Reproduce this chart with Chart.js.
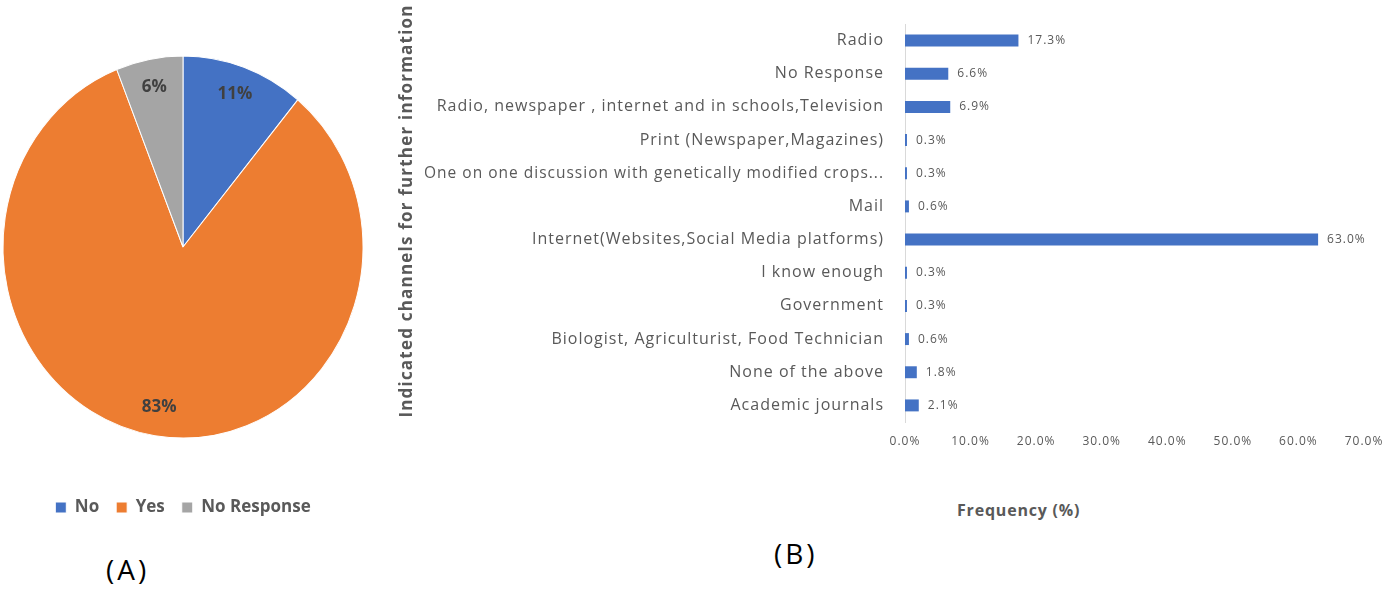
<!DOCTYPE html>
<html>
<head>
<meta charset="utf-8">
<script src="https://cdn.jsdelivr.net/npm/chart.js@4.4.1/dist/chart.umd.min.js"></script>
<style>
  html, body { margin: 0; padding: 0; background: #ffffff; }
  body { width: 1400px; height: 594px; position: relative; overflow: hidden; font-family: "Open Sans", sans-serif; }
  .box { position: absolute; }
  .panel { position: absolute; color: #000; font-size: 28px; letter-spacing: 3px; line-height: 1; font-family: "Open Sans", sans-serif; }
  .xtitle { position: absolute; color: #595959; font-weight: bold; font-size: 16px; letter-spacing: 0.8px; line-height: 1; font-family: "Open Sans", sans-serif; }
</style>
</head>
<body>
<div class="box" style="left:-5px; top:0; width:376px; height:526px;"><canvas id="pie"></canvas></div>
<div class="box" style="left:395px; top:0; width:1005px; height:480px;"><canvas id="bar"></canvas></div>
<div class="xtitle" style="left:957px; top:502px;">Frequency (%)</div>
<div class="panel" style="left:106px; top:555px;">(A)</div>
<div class="panel" style="left:774px; top:539px;">(B)</div>
<script>
// ---- Pie (A) data ----
const pieLabels = ['No', 'Yes', 'No Response'];
const pieValues = [11, 83, 6];
const pieColors = ['#4472C4', '#ED7D31', '#A5A5A5'];

// ---- Bar (B) data ----
const channelLabels = [
  'Radio',
  'No Response',
  'Radio, newspaper , internet and in schools,Television',
  'Print (Newspaper,Magazines)',
  'One on one discussion with genetically modified crops...',
  'Mail',
  'Internet(Websites,Social Media platforms)',
  'I know enough',
  'Government',
  'Biologist, Agriculturist, Food Technician',
  'None of the above',
  'Academic journals'
];
const channelValues = [17.3, 6.6, 6.9, 0.3, 0.3, 0.6, 63.0, 0.3, 0.3, 0.6, 1.8, 2.1];
const xTickMax = 70;
const xTickStep = 10;
const yAxisTitle = 'Indicated channels for further information';

const FONT = '"Open Sans", sans-serif';

// slight vertical stretch of the pie, as in the original figure
const PIE_SX = 0.9704, PIE_SY = 1.0296;

const pieLabelPlugin = {
  id: 'pieLabels',
  beforeDatasetsDraw(chart) {
    const arc = chart.getDatasetMeta(0).data[0];
    const ctx = chart.ctx;
    ctx.save();
    ctx.translate(arc.x, arc.y);
    ctx.scale(PIE_SX, PIE_SY);
    ctx.translate(-arc.x, -arc.y);
  },
  afterDatasetsDraw(chart) {
    const ctx = chart.ctx;
    ctx.restore();
    const meta = chart.getDatasetMeta(0);
    ctx.save();
    ctx.font = 'bold 17px ' + FONT;
    ctx.fillStyle = '#404040';
    ctx.textAlign = 'center';
    ctx.textBaseline = 'middle';
    meta.data.forEach((arc, i) => {
      const p = arc.getProps(['x', 'y', 'startAngle', 'endAngle', 'outerRadius'], true);
      const mid = (p.startAngle + p.endAngle) / 2;
      const r = p.outerRadius * 0.85;
      ctx.fillText(pieValues[i] + '%', p.x + Math.cos(mid) * r * PIE_SX, p.y + Math.sin(mid) * r * PIE_SY);
    });
    ctx.restore();
  }
};

new Chart(document.getElementById('pie'), {
  type: 'pie',
  data: {
    labels: pieLabels,
    datasets: [{
      data: pieValues,
      backgroundColor: pieColors,
      borderColor: '#ffffff',
      borderWidth: 1,
      radius: 185.5
    }]
  },
  options: {
    responsive: true,
    maintainAspectRatio: false,
    animation: false,
    layout: { padding: { top: 12, bottom: 0, left: 0, right: 0 } },
    plugins: {
      legend: {
        display: true,
        position: 'bottom',
        labels: {
          boxWidth: 11,
          boxHeight: 11,
          padding: 17,
          color: '#595959',
          font: { family: FONT, size: 17, weight: 'bold' }
        }
      },
      tooltip: { enabled: false }
    }
  },
  plugins: [pieLabelPlugin]
});

const barTextPlugin = {
  id: 'barText',
  beforeDraw(chart) {
    chart.ctx.letterSpacing = '1px';
  },
  afterDatasetsDraw(chart) {
    const ctx = chart.ctx;
    const meta = chart.getDatasetMeta(0);
    ctx.save();
    ctx.font = '12px ' + FONT;
    ctx.fillStyle = '#595959';
    ctx.textAlign = 'left';
    ctx.textBaseline = 'middle';
    meta.data.forEach((bar, i) => {
      const p = bar.getProps(['x', 'y'], true);
      ctx.fillText(channelValues[i].toFixed(1) + '%', p.x + 9, p.y);
    });
    ctx.restore();
  },
  afterDraw(chart) {
    // y axis title, centred next to the category labels
    const ctx = chart.ctx;
    ctx.save();
    ctx.letterSpacing = '1.2px';
    ctx.font = 'bold 17px ' + FONT;
    ctx.fillStyle = '#595959';
    ctx.textAlign = 'center';
    ctx.textBaseline = 'middle';
    ctx.translate(12, 211);
    ctx.rotate(-Math.PI / 2);
    ctx.fillText(yAxisTitle, 0, 0);
    ctx.restore();
  }
};

new Chart(document.getElementById('bar'), {
  type: 'bar',
  data: {
    labels: channelLabels,
    datasets: [{
      data: channelValues,
      backgroundColor: '#4472C4',
      borderWidth: 0,
      barPercentage: 0.36,
      categoryPercentage: 1.0
    }]
  },
  options: {
    indexAxis: 'y',
    responsive: true,
    maintainAspectRatio: false,
    animation: false,
    layout: { padding: { top: 24, right: 36, left: 0, bottom: 0 } },
    plugins: { legend: { display: false }, tooltip: { enabled: false } },
    scales: {
      x: {
        min: 0,
        max: xTickMax,
        ticks: {
          stepSize: xTickStep,
          callback: v => Number(v).toFixed(1) + '%',
          color: '#595959',
          font: { family: FONT, size: 12 },
          padding: 12,
          maxRotation: 0
        },
        grid: { display: false, drawTicks: false },
        border: { display: false },
        afterFit: s => { s.height = 58; }
      },
      y: {
        ticks: {
          color: '#595959',
          // the truncated (longest) label is set a touch tighter so it clears the axis title
          font: c => ({ family: FONT, size: (channelLabels[c.index] || '').endsWith('...') ? 15.5 : 16 }),
          padding: 21,
          autoSkip: false
        },
        grid: { display: false, drawTicks: false },
        border: { display: true, color: '#d9d9d9', width: 1 },
        afterFit: s => { s.width = 510; s.paddingTop = 0; s.paddingBottom = 0; }
      }
    }
  },
  plugins: [barTextPlugin]
});
</script>
</body>
</html>
